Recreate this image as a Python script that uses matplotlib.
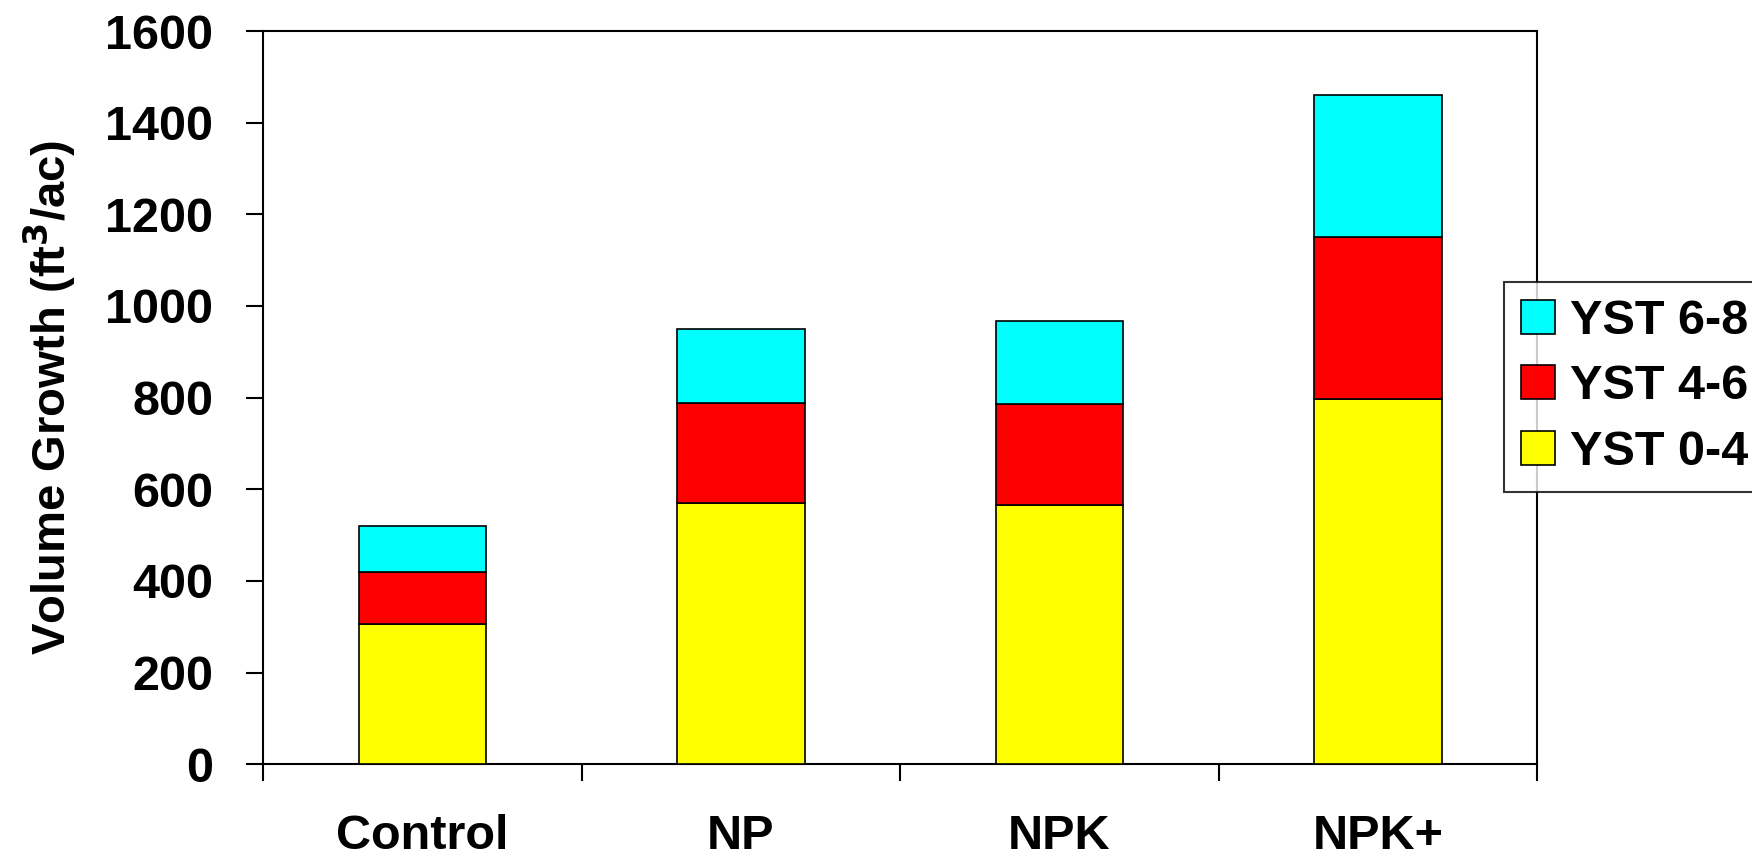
import matplotlib

matplotlib.use('Agg')
import matplotlib.pyplot as plt
from matplotlib.patches import Patch

plt.rcParams['font.family'] = ['Liberation Sans', 'DejaVu Sans']
plt.rcParams['font.weight'] = 'bold'

categories = ['Control', 'NP', 'NPK', 'NPK+']
yst_0_4 = [305, 570, 565, 797]
yst_4_6 = [115, 218, 222, 353]
yst_6_8 = [100, 162, 180, 310]
series_labels = ['YST 0-4', 'YST 4-6', 'YST 6-8']
series_colours = ['#ffff00', '#ff0000', '#00ffff']
y_ticks = [0, 200, 400, 600, 800, 1000, 1200, 1400, 1600]

fig = plt.figure(figsize=(17.52, 8.59), dpi=100)
ax = fig.add_axes([0.1503, 0.1103, 0.7270, 0.8536])

x = [i + 0.5 for i in range(len(categories))]
bottom = [0] * len(categories)
for vals, colour in zip([yst_0_4, yst_4_6, yst_6_8], series_colours):
    ax.bar(x, vals, width=0.4, bottom=bottom, color=colour,
           edgecolor='black', linewidth=1.2, zorder=3)
    bottom = [b + v for b, v in zip(bottom, vals)]

ax.set_xlim(0, len(categories))
ax.set_ylim(0, 1600)
ax.set_yticks(y_ticks)
ax.set_yticklabels([str(t) for t in y_ticks], fontsize=35, fontweight='bold')

# tick marks between groups, labels at the centres
ax.set_xticks(range(len(categories) + 1))
ax.set_xticklabels([])
ax.set_xticks(x, minor=True)
ax.set_xticklabels(categories, minor=True, fontsize=35, fontweight='bold')
ax.tick_params(axis='x', which='minor', length=0, pad=36)
ax.tick_params(axis='x', which='major', length=12, width=1.5, direction='out')
ax.tick_params(axis='y', length=12, width=1.5, direction='out', pad=24)

for s in ax.spines.values():
    s.set_linewidth(1.5)

ax.set_ylabel('Volume Growth (ft$^\\mathbf{3}$/ac)', fontsize=34,
              fontweight='bold', labelpad=20)

handles = [Patch(facecolor=c, edgecolor='black', linewidth=1.2)
           for c in reversed(series_colours)]
leg = fig.legend(handles, list(reversed(series_labels)), loc='upper left',
                 bbox_to_anchor=(1504 / 1752, 1 - 282 / 859), borderaxespad=0,
                 fontsize=35, frameon=True, fancybox=False, edgecolor='black',
                 handlelength=0.7, handleheight=0.7, handletextpad=0.3,
                 labelspacing=0.42, borderpad=0.35)
leg.get_frame().set_linewidth(1.5)
for t in leg.get_texts():
    t.set_fontweight('bold')

fig.savefig('out.png', dpi=100)
